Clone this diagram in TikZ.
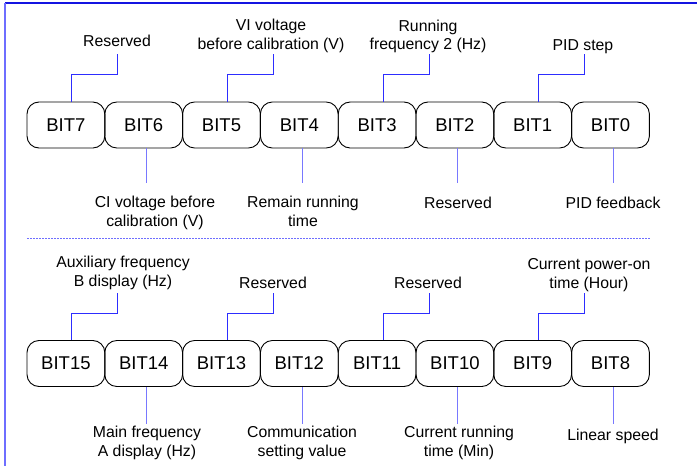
\documentclass[tikz,border=0pt]{standalone}
\usepackage{fontspec}
\setmainfont{Liberation Sans}
\definecolor{frameblue}{RGB}{20,20,225}
\definecolor{frameleft}{RGB}{110,110,255}
\definecolor{upline}{RGB}{45,45,255}
\definecolor{downline}{RGB}{120,120,255}
\definecolor{dashblue}{RGB}{110,110,255}
\begin{document}
\begin{tikzpicture}[x=1pt,y=-1pt,
  bitbox/.style={draw=black, line width=0.9pt, rounded corners=12pt, minimum width=77.8pt, minimum height=46pt, inner sep=0pt, font=\fontsize{18.5}{22}\selectfont},
  lab/.style={align=center, inner sep=0pt, anchor=base, font=\fontsize{15.8}{18.5}\selectfont},
  upc/.style={draw=upline, line width=1pt},
  dnc/.style={draw=downline, line width=1pt}]
\useasboundingbox (0,0) rectangle (697,466);
% frame
\draw[frameblue, line width=1.2pt] (697,3) -- (5,3);
\draw[frameleft, line width=1.6pt] (5,3) -- (5,466);
% separator
\draw[dashblue, line width=1pt, dash pattern=on 2pt off 1pt] (27,238) -- (650,238);
% top row boxes
\node[bitbox] (b7) at (65.9,125) {BIT7};
\node[bitbox] (b6) at (143.7,125) {BIT6};
\node[bitbox] (b5) at (221.5,125) {BIT5};
\node[bitbox] (b4) at (299.3,125) {BIT4};
\node[bitbox] (b3) at (377.1,125) {BIT3};
\node[bitbox] (b2) at (454.9,125) {BIT2};
\node[bitbox] (b1) at (532.7,125) {BIT1};
\node[bitbox] (b0) at (610.5,125) {BIT0};
% bottom row boxes
\node[bitbox] (b15) at (65.9,363.5) {BIT15};
\node[bitbox] (b14) at (143.7,363.5) {BIT14};
\node[bitbox] (b13) at (221.5,363.5) {BIT13};
\node[bitbox] (b12) at (299.3,363.5) {BIT12};
\node[bitbox] (b11) at (377.1,363.5) {BIT11};
\node[bitbox] (b10) at (454.9,363.5) {BIT10};
\node[bitbox] (b9) at (532.7,363.5) {BIT9};
\node[bitbox] (b8) at (610.5,363.5) {BIT8};
% labels, top row
\node[lab] (l7) at (117,46) {Reserved};
\node[lab] (l5) at (271,49) {VI voltage\\before calibration (V)};
\node[lab] (l3) at (428,49.5) {Running\\frequency 2 (Hz)};
\node[lab] (l1) at (583,50.5) {PID step};
\node[lab] (l6) at (155,226) {CI voltage before\\calibration (V)};
\node[lab] (l4) at (303,226) {Remain running\\time};
\node[lab] (l2) at (458,208) {Reserved};
\node[lab] (l0) at (613,208) {PID feedback};
% labels, bottom row
\node[lab] (l15) at (123,286) {Auxiliary frequency\\B display (Hz)};
\node[lab] (l13) at (273,288) {Reserved};
\node[lab] (l11) at (428,288) {Reserved};
\node[lab] (l9) at (589,288) {Current power-on\\time (Hour)};
\node[lab] (l14) at (147,456) {Main frequency\\A display (Hz)};
\node[lab] (l12) at (302,456) {Communication\\setting value};
\node[lab] (l10) at (459,456) {Current running\\time (Min)};
\node[lab] (l8) at (613,440) {Linear speed};
% connector ends
\coordinate (t7) at (117,54);
\coordinate (t5) at (273,54);
\coordinate (t3) at (429,54);
\coordinate (t1) at (584,54);
\coordinate (t15) at (117,293);
\coordinate (t13) at (273,293);
\coordinate (t11) at (429,293);
\coordinate (t9) at (584,293);
% connectors, upper
\foreach \n in {7,5,3,1,15,13,11,9}
  \draw[upc] ([xshift=6pt]b\n.north) -- ++(0,-27) -| (t\n);
% connectors, lower
\foreach \n in {6,4,2,0}
  \draw[dnc] ([xshift=3pt]b\n.south) -- ++(0,35);
\foreach \n in {14,12,10,8}
  \draw[dnc] ([xshift=3pt]b\n.south) -- ++(0,37);
\end{tikzpicture}
\end{document}
